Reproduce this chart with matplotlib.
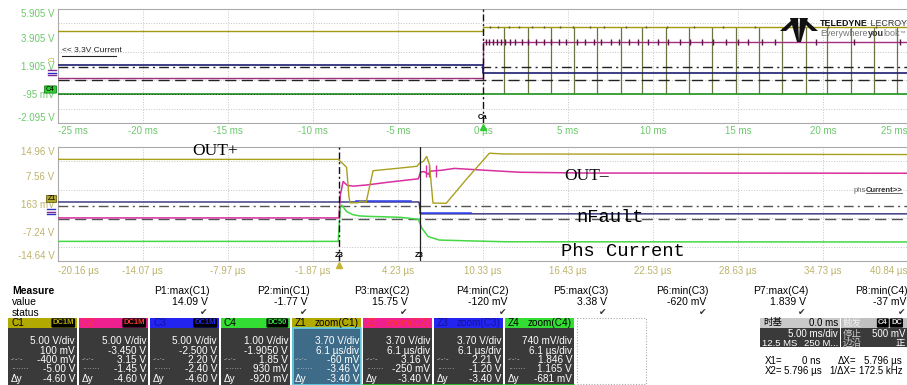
#!/usr/bin/env python3

import numpy as np
import matplotlib
matplotlib.use('Agg')
import matplotlib.pyplot as plt
from matplotlib.patches import Rectangle, FancyBboxPatch, Polygon
from matplotlib.transforms import blended_transform_factory

plt.rcParams['font.family'] = ['Liberation Sans', 'Noto Sans CJK SC', 'DejaVu Sans']

W, H = 907, 385

# ---------------- overview panel (time in ms) ----------------
top_xticks = [-25, -20, -15, -10, -5, 0, 5, 10, 15, 20, 25]
top_xlabels = ['-25 ms', '-20 ms', '-15 ms', '-10 ms', '-5 ms', '0 µs',
               '5 ms', '10 ms', '15 ms', '20 ms', '25 ms']
top_yticks = [-2.095, -0.095, 1.905, 3.905, 5.905]
top_ylabels = ['-2.095 V', '-95 mV', '1.905 V', '3.905 V', '5.905 V']

c1_t = [-25, 0, 0, 25]
c1_v = [4.34, 4.34, 4.62, 4.62]
c2_t = [-25, 0, 0, 25]
c2_v = [1.08, 1.08, 3.57, 3.57]
c3_t = [-25, 0, 0, 25]
c3_v = [1.975, 1.975, 1.435, 1.435]
c4_t = [-25, 25]
c4_v = [-0.06, -0.06]
top_dashdot = 1.81
top_dashed = 0.90
spike_t = [1.24, 2.65, 4.02, 5.35, 6.73, 8.10, 9.37, 10.75, 12.12, 13.49,
           14.86, 16.24, 17.61, 18.98, 20.25, 21.63, 23.00, 24.37]
burst_t = [0.15, 0.35, 0.6, 0.8, 1.05, 1.3, 1.6, 1.9, 2.3, 2.65, 3.1, 3.6,
           4.0, 4.45, 4.9, 5.5, 6.0, 6.5, 6.95, 7.5, 8.0, 8.6, 9.1, 9.7,
           10.3, 10.9, 11.6, 12.2, 12.9, 13.5, 14.3, 15.0, 15.6, 16.4,
           17.2, 19.6, 21.8, 24.5]
yel_mark_t = [0.4, 0.9, 1.5, 2.1, 2.9, 3.6, 4.5, 5.3, 6.3, 7.1, 8.4, 9.6,
              10.8, 12.4, 14.1, 16.0, 17.9, 20.3, 23.1]

# ---------------- zoom panel (time in µs) ----------------
bot_xticks = [-20.16, -14.07, -7.97, -1.87, 4.23, 10.33, 16.43, 22.53,
              28.63, 34.73, 40.84]
bot_xlabels = ['-20.16 µs', '-14.07 µs', '-7.97 µs', '-1.87 µs', '4.23 µs',
               '10.33 µs', '16.43 µs', '22.53 µs', '28.63 µs', '34.73 µs',
               '40.84 µs']
bot_yticks = [-14.64, -7.24, 0.16, 7.56, 14.96]
bot_ylabels = ['-14.64 V', '-7.24 V', '163 mV', '7.56 V', '14.96 V']

out_pos_t = [-20.16, -0.05, 0.55, 0.72, 0.80, 1.40, 1.60, 1.95, 2.45, 4.40,
             5.60, 5.80, 6.05, 6.30, 6.50, 6.75, 7.70, 9.20, 10.80, 11.80, 40.84]
out_pos_v = [11.75, 11.75, 9.70, 2.00, 0.45, 0.50, 0.95, 0.55, 8.80, 9.50,
             9.95, 10.80, 11.20, 12.50, 10.40, 0.40, 0.35, 6.80, 13.35, 13.15, 13.00]
out_neg_t = [-20.16, 0.00, 0.10, 0.30, 0.60, 1.00, 2.00, 3.50, 5.70, 5.85,
             6.10, 6.40, 6.60, 7.30, 8.30, 10.60, 13.00, 17.80, 40.84]
out_neg_v = [-3.45, -3.45, 2.50, 6.00, 5.00, 4.80, 5.10, 5.80, 6.70, 8.40,
             8.60, 7.90, 8.70, 8.90, 9.40, 8.90, 8.40, 8.20, 8.15]
out_neg_spike_t = [6.25, 6.45, 7.00]
nfault_t = [-20.16, 5.75, 5.85, 40.84]
nfault_v = [0.68, 0.68, -2.40, -2.40]
nfault_hi_t = [1.20, 5.20, np.nan, 5.85, 9.50]
nfault_hi_v = [0.85, 0.85, np.nan, -2.20, -2.20]
phs_t = [-20.16, -0.05, 0.10, 0.20, 0.55, 1.00, 1.50, 2.50, 3.20, 4.40, 5.70,
         5.95, 6.40, 7.20, 9.20, 12.00, 40.84]
phs_v = [-9.55, -9.55, -0.60, -0.10, -1.80, -2.60, -2.95, -3.10, -3.15, -3.30,
         -3.80, -6.10, -8.30, -9.20, -9.40, -9.65, -9.70]
bot_dashdot = -0.35
bot_dashed = -3.65
cursor_x = [0.0, 5.796]

# ---------------- measurement table ----------------
meas_names = ['P1:max(C1)', 'P2:min(C1)', 'P3:max(C2)', 'P4:min(C2)',
              'P5:max(C3)', 'P6:min(C3)', 'P7:max(C4)', 'P8:min(C4)']
meas_values = ['14.09 V', '-1.77 V', '15.75 V', '-120 mV', '3.38 V',
               '-620 mV', '1.839 V', '-37 mV']

ch_names = ['C1', 'C2', 'C3', 'C4', 'Z1', 'Z2', 'Z3', 'Z4']
ch_tags = ['DC1M', 'DC1M', 'DC1M', 'DC50', 'zoom(C1)', 'zoom(C2)',
           'zoom(C3)', 'zoom(C4)']
ch_scale = ['5.00 V/div', '5.00 V/div', '5.00 V/div', '1.00 V/div',
            '3.70 V/div', '3.70 V/div', '3.70 V/div', '740 mV/div']
ch_offset = ['100 mV', '-3.450 V', '-2.500 V', '-1.9050 V', '6.1 µs/div',
             '6.1 µs/div', '6.1 µs/div', '6.1 µs/div']
ch_cur1 = ['-400 mV', '3.15 V', '2.20 V', '1.85 V', '-60 mV', '3.16 V',
           '2.21 V', '1.846 V']
ch_cur2 = ['-5.00 V', '-1.45 V', '-2.40 V', '930 mV', '-3.46 V', '-250 mV',
           '-1.20 V', '1.165 V']
ch_dy = ['-4.60 V', '-4.60 V', '-4.60 V', '-920 mV', '-3.40 V', '-3.40 V',
         '-3.40 V', '-681 mV']

OLIVE = '#b3aa00'
MAGENTA = '#ee1f8e'
BLUE = '#2424f0'
GREEN = '#33dd33'
hdr_bg = [OLIVE, MAGENTA, BLUE, GREEN, OLIVE, MAGENTA, BLUE, GREEN]
hdr_fg = ['black', '#ff3434', '#12129a', 'black', 'black', '#ff3434', '#12129a', 'black']
tag_fg = [OLIVE, '#ff3434', BLUE, GREEN]


def px_axes(fig, left, top, right, bottom):
    return fig.add_axes([left / W, 1 - bottom / H, (right - left) / W, (bottom - top) / H])


def style_panel(ax, xticks, xlabels, yticks, ylabels, lab_color, xpad):
    ax.set_xticks(xticks)
    ax.set_xticklabels(xlabels)
    ax.set_yticks(yticks)
    ax.set_yticklabels(ylabels)
    lo, hi = ax.get_ylim()
    ax.set_yticks(np.linspace(lo, hi, 9), minor=True)
    ax.tick_params(which='both', length=0)
    ax.tick_params(axis='y', pad=2.5, labelsize=7, labelcolor=lab_color)
    ax.tick_params(axis='x', pad=xpad, labelsize=7, labelcolor=lab_color)
    ax.xaxis.grid(True, which='major', color='#c4c4c4', linestyle=':', linewidth=0.7)
    ax.yaxis.grid(True, which='minor', color='#c4c4c4', linestyle=':', linewidth=0.7)
    xl = ax.get_xticklabels()
    xl[0].set_ha('left')
    xl[-1].set_ha('right')
    yl = ax.get_yticklabels()
    yl[0].set_va('bottom')
    yl[-1].set_va('top')
    for s in ax.spines.values():
        s.set_color('#aaaaaa')
        s.set_linewidth(0.8)


fig = plt.figure(figsize=(W / 100, H / 100), dpi=100, facecolor='white')

# ---------------- top panel ----------------
ax1 = px_axes(fig, 58, 9, 908, 123)
ax1.set_xlim(-25, 25)
ax1.set_ylim(-2.095, 5.905)
style_panel(ax1, top_xticks, top_xlabels, top_yticks, top_ylabels, '#6cc86c', 2)

ax1.axhline(top_dashdot, color='#222222', lw=1.0, ls=(0, (7, 3, 1.5, 3)), zorder=3)
ax1.axhline(top_dashed, color='#222222', lw=1.0, ls=(0, (8, 4)), zorder=3)
ax1.vlines(spike_t, c4_v[0], c1_v[-1], color='#6b7440', lw=0.9, zorder=2)
ax1.plot(c4_t, c4_v, color='#2e9a2e', lw=1.3, zorder=4)
ax1.hlines(c4_v[0], -25, 0, color='#1d3d1d', lw=0.7, linestyles=(0, (1, 2)), zorder=5)
ax1.plot(c1_t, c1_v, color='#a39a10', lw=1.0, zorder=4)
ax1.plot(c2_t, c2_v, color='#a3307e', lw=1.0, zorder=4)
ax1.plot(c3_t, c3_v, color='#1c1c6e', lw=1.2, zorder=4)
ax1.vlines(burst_t, c2_v[-1] - 0.22, c2_v[-1] + 0.22, color='#5c1448', lw=1.0, zorder=5)
ax1.vlines(yel_mark_t, c1_v[-1] - 0.08, c1_v[-1] + 0.08, color='#5a5520', lw=1.0, zorder=5)
ax1.axvline(0, color='#111111', lw=1.0, ls=(0, (5, 2, 1.5, 2)), zorder=6)
tr1 = blended_transform_factory(ax1.transData, ax1.transAxes)
ax1.text(0, 0.045, 'Ca', transform=tr1, ha='center', va='center', fontsize=5.5,
         fontweight='bold', color='black', zorder=7)
ax1.plot([0], [-0.035], marker='^', ms=4, color='#33cc33', transform=tr1, clip_on=False, zorder=7)

# ---------------- bottom panel ----------------
ax2 = px_axes(fig, 58, 147, 908, 261)
ax2.set_xlim(-20.16, 40.84)
ax2.set_ylim(-14.64, 14.96)
style_panel(ax2, bot_xticks, bot_xlabels, bot_yticks, bot_ylabels, '#bdb36a', 3.5)

ax2.axhline(bot_dashdot, color='#555555', lw=1.0, ls=(0, (7, 3, 1.5, 3)), zorder=3)
ax2.axhline(bot_dashed, color='#555555', lw=1.0, ls=(0, (8, 4)), zorder=3)
ax2.plot(nfault_t, nfault_v, color='#2b2b78', lw=1.0, zorder=4)
ax2.plot(nfault_hi_t, nfault_hi_v, color='#2a3cf0', lw=1.1, zorder=4)
ax2.plot(phs_t, phs_v, color='#44d844', lw=1.1, zorder=4)
ax2.plot(out_neg_t, out_neg_v, color='#d8309e', lw=1.1, zorder=4)
ax2.vlines(out_neg_spike_t, 7.3, 10.3, color='#d8309e', lw=1.0, zorder=4)
ax2.plot(out_pos_t, out_pos_v, color='#aaa020', lw=1.0, zorder=5)
ax2.axvline(cursor_x[0], color='#111111', lw=1.0, ls=(0, (5, 2, 1.5, 2)), zorder=6)
ax2.axvline(cursor_x[1], color='#222222', lw=0.9, zorder=6)
tr2 = blended_transform_factory(ax2.transData, ax2.transAxes)
for cx in cursor_x:
    ax2.text(cx, 0.045, 'Z3', transform=tr2, ha='center', va='center', fontsize=5.5,
             fontweight='bold', color='black', zorder=7)
ax2.plot([cursor_x[0]], [-0.035], marker='^', ms=4, color='#c8b430', transform=tr2,
         clip_on=False, zorder=7)

# ---------------- overlay (pixel coordinates) ----------------
ov = fig.add_axes([0, 0, 1, 1], zorder=10)
ov.set_xlim(0, W)
ov.set_ylim(H, 0)
ov.axis('off')
ov.patch.set_alpha(0)
renderer = fig.canvas.get_renderer()


def runs(x, y, parts, **kw):
    for txt, extra in parts:
        opts = dict(kw)
        opts.update(extra)
        t = ov.text(x, y, txt, ha='left', va='center', **opts)
        x += t.get_window_extent(renderer=renderer).width


# channel markers on the left of the panels
ov.text(52, 61, 'C1', fontsize=4.5, color=OLIVE, ha='center', va='center')
ov.plot([48, 56], [70, 70], color='#7a2a90', lw=1.0)
ov.plot([48, 56], [72.5, 72.5], color='#2a2ac0', lw=1.0)
ov.plot([48, 56], [75, 75], color='#7a2a90', lw=1.0)
ov.add_patch(FancyBboxPatch((45, 86.5), 11, 6, boxstyle='round,pad=0.6', fc='#2ed02e', ec='#1a801a', lw=0.6))
ov.text(50.5, 89.5, 'C4', fontsize=5, color='black', ha='center', va='center')
ov.add_patch(FancyBboxPatch((47, 196), 9, 6, boxstyle='round,pad=0.6', fc='#b0a830', ec='#6a6010', lw=0.6))
ov.text(51.5, 199, 'Z1', fontsize=5, color='black', ha='center', va='center')
ov.plot([47, 55], [209, 209], color='#3030c0', lw=1.0)
ov.plot([47, 55], [211.5, 211.5], color='#7a2a90', lw=1.0)
ov.plot([47, 55], [213.5, 213.5], color='#3030c0', lw=1.0)

# annotations
ov.text(62, 51, '<< 3.3V Current', fontsize=6, color='#222222', ha='left', va='center')
ov.plot([62, 116], [55.5, 55.5], color='#222222', lw=0.8)
ov.text(192, 151, 'OUT+', family='Liberation Serif', fontsize=12.5, color='black', ha='left', va='center')
ov.text(564, 175.5, 'OUT–', family='Liberation Serif', fontsize=12.5, color='black', ha='left', va='center')
ov.text(576, 217.5, 'nFault', family='Liberation Mono', fontsize=13.5, color='black', ha='left', va='center')
ov.text(561, 252, 'Phs Current', family='Liberation Mono', fontsize=13.5, color='black', ha='left', va='center')
ov.text(854, 190, 'phs', fontsize=5.5, color='#666666', ha='left', va='center')
ov.text(866, 190, 'Current>>', fontsize=5.5, color='#333333', fontweight='bold', ha='left', va='center')
ov.plot([866, 902], [192.5, 192.5], color='#555555', lw=0.6)

# logo
ov.add_patch(Polygon([(780, 31), (794, 18), (799, 18), (786, 31)], closed=True, fc='#111111', ec='none'))
ov.add_patch(Polygon([(818, 31), (804, 18), (799, 18), (812, 31)], closed=True, fc='#111111', ec='none'))
ov.add_patch(Polygon([(790, 18), (798, 18), (799, 42), (797, 42)], closed=True, fc='#111111', ec='none'))
ov.add_patch(Polygon([(800, 18), (808, 18), (801, 42), (799, 42)], closed=True, fc='#111111', ec='none'))
runs(820, 24, [('TELEDYNE', {'fontweight': 'bold', 'color': '#111111'}),
               (' LECROY', {'color': '#333333'})], fontsize=6.4)
runs(820, 33.5, [('Everywhere', {'color': '#777777'}),
                 ('you', {'fontweight': 'bold', 'color': '#333333'}),
                 ('look', {'color': '#777777'}),
                 ('™', {'color': '#777777', 'fontsize': 4})], fontsize=6.5)

# measure rows
ov.text(12, 291, 'Measure', fontsize=7.5, fontweight='bold', color='black', ha='left', va='center')
ov.text(12, 302, 'value', fontsize=7.5, color='black', ha='left', va='center')
ov.text(12, 313, 'status', fontsize=7.5, color='black', ha='left', va='center')
for i, (name, val) in enumerate(zip(meas_names, meas_values)):
    right = 210 + 99.7 * i
    ov.text(right, 291, name, fontsize=7.5, color='black', ha='right', va='center')
    ov.text(right - 2, 302, val, fontsize=7.5, color='black', ha='right', va='center')
    ov.text(right - 6, 313, '✔', family='DejaVu Sans', fontsize=6.5, color='#333333',
            ha='center', va='center')

# channel boxes
row_y = [341, 350.5, 360, 369.5, 379]
for i in range(8):
    left = 8 + 71 * i
    right = left + 69
    body = '#3e6c88' if i == 4 else '#3a3a3a'
    ov.add_patch(Rectangle((left, 328), 69, 58, fc=body, ec='none'))
    ov.add_patch(Rectangle((left, 318), 69, 10, fc=hdr_bg[i], ec='none'))
    if i == 4:
        ov.add_patch(Rectangle((left + 0.5, 328), 68, 57, fc='none', ec='#66d4e8', lw=1.2))
    if i >= 5:
        ov.plot([left, right], [384.5, 384.5], color='#2ecc2e', lw=1.2)
    ov.text(left + 3, 323, ch_names[i], fontsize=7.2, color=hdr_fg[i], ha='left', va='center')
    if i < 4:
        ov.text(right - 3, 323, ch_tags[i], fontsize=5.5, fontweight='bold', color=tag_fg[i],
                ha='right', va='center',
                bbox=dict(boxstyle='round,pad=0.15', fc='black', ec='none'))
    else:
        ov.text(right - 2, 323, ch_tags[i], fontsize=7.2, color=hdr_fg[i], ha='right', va='center')
    vals = [ch_scale[i], ch_offset[i], ch_cur1[i], ch_cur2[i], ch_dy[i]]
    for y, v in zip(row_y, vals):
        ov.text(right - 2, y, v, fontsize=7.2, color='white', ha='right', va='center')
    ov.text(left + 3, row_y[2], '-·-·-', fontsize=5.5, color='#cccccc', ha='left', va='center')
    ov.text(left + 3, row_y[3], '·······', fontsize=5.5, color='#cccccc', ha='left', va='center')
    ov.text(left + 3, row_y[4], 'Δy', fontsize=7.2, color='white', ha='left', va='center')

ov.add_patch(Rectangle((577, 318), 69, 66, fc='white', ec='#aaaaaa', lw=0.8, ls=(0, (1, 1.5))))

# timebase / trigger
ov.add_patch(Rectangle((760, 318), 80, 9.5, fc='#c9c9c9', ec='none'))
ov.add_patch(Rectangle((760, 327.5), 80, 19.5, fc='#3a3a3a', ec='none'))
ov.add_patch(Rectangle((841, 318), 70, 9.5, fc='#c0c0c0', ec='none'))
ov.add_patch(Rectangle((841, 327.5), 70, 19.5, fc='#3a3a3a', ec='none'))
ov.text(763, 323, '时基', fontsize=6.8, color='black', ha='left', va='center')
ov.text(838, 323, '0.0 ms', fontsize=7, color='black', ha='right', va='center')
ov.text(838, 334, '5.00 ms/div', fontsize=7, color='white', ha='right', va='center')
ov.text(762, 343, '12.5 MS', fontsize=6.8, color='white', ha='left', va='center')
ov.text(838, 343, '250 M...', fontsize=6.8, color='white', ha='right', va='center')
ov.text(843, 323, '触发', fontsize=6.8, color='#f2f2f2', ha='left', va='center')
ov.text(878, 323, 'C4', fontsize=5.5, fontweight='bold', color='#dddddd', ha='left', va='center',
        bbox=dict(boxstyle='round,pad=0.15', fc='black', ec='none'))
ov.text(891, 323, 'DC', fontsize=5.5, fontweight='bold', color='#dddddd', ha='left', va='center',
        bbox=dict(boxstyle='round,pad=0.15', fc='black', ec='none'))
ov.text(843, 334, '停止', fontsize=6.8, color='#cfcfcf', ha='left', va='center')
ov.text(906, 334, '500 mV', fontsize=7, color='white', ha='right', va='center')
ov.text(843, 343, '边沿', fontsize=6.8, color='#cfcfcf', ha='left', va='center')
ov.text(905, 343, '正', fontsize=6.8, color='white', ha='right', va='center')

ov.text(765, 361, 'X1=', fontsize=7, color='black', ha='left', va='center')
ov.text(821, 361, '0 ns', fontsize=7, color='black', ha='right', va='center')
ov.text(856, 361, 'ΔX=', fontsize=7, color='black', ha='right', va='center')
ov.text(902, 361, '5.796 µs', fontsize=7, color='black', ha='right', va='center')
ov.text(765, 370.5, 'X2=', fontsize=7, color='black', ha='left', va='center')
ov.text(822, 370.5, '5.796 µs', fontsize=7, color='black', ha='right', va='center')
ov.text(856, 370.5, '1/ΔX=', fontsize=7, color='black', ha='right', va='center')
ov.text(903, 370.5, '172.5 kHz', fontsize=7, color='black', ha='right', va='center')

fig.savefig('out.png', dpi=100, facecolor='white')
